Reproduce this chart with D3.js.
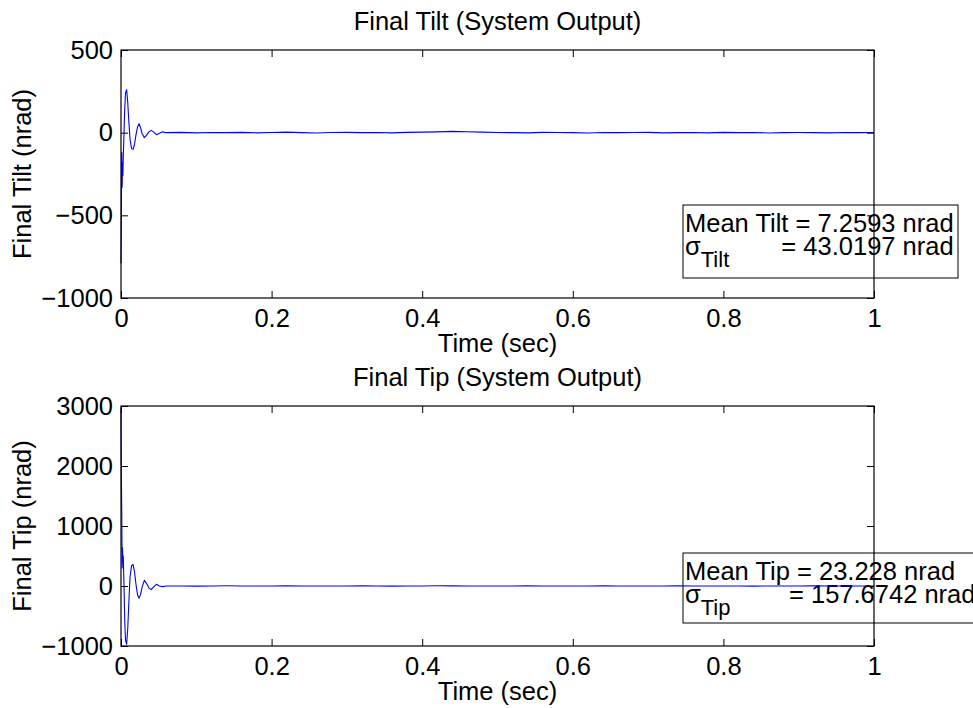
<!DOCTYPE html>
<html>
<head>
<meta charset="utf-8">
<script src="https://cdn.jsdelivr.net/npm/d3@7"></script>
<style>
  body { margin: 0; background: #fff; }
  svg { display: block; }
  text { font-family: Arial, "Liberation Sans", Helvetica, sans-serif; fill: #000; }
</style>
</head>
<body>
<svg id="chart" width="973" height="708"></svg>
<script>
// ---------------- DATA ----------------
const time = [
  0, 0.0005, 0.001, 0.0015, 0.002, 0.0025, 0.003, 0.004, 0.005, 0.006,
  0.0075, 0.009, 0.0105, 0.012, 0.014, 0.016, 0.018, 0.020, 0.022, 0.024,
  0.026, 0.028, 0.031, 0.034, 0.037, 0.040, 0.043, 0.047, 0.051, 0.055,
  0.06, 0.08, 0.10, 0.12, 0.14, 0.16, 0.18, 0.20, 0.22, 0.24,
  0.26, 0.28, 0.30, 0.32, 0.34, 0.36, 0.38, 0.40, 0.42, 0.44,
  0.46, 0.48, 0.50, 0.52, 0.54, 0.56, 0.58, 0.60, 0.62, 0.64,
  0.66, 0.68, 0.70, 0.72, 0.74, 0.76, 0.78, 0.80, 0.82, 0.84,
  0.86, 0.88, 0.90, 0.92, 0.94, 0.96, 0.98, 1.00
];
const tiltValues = [
  -790, -450, -120, -330, -180, -260, -150, 0, 150, 240,
  260, 180, 60, -40, -95, -101, -70, -10, 35, 54,
  30, -5, -30, -15, 5, 14, 5, -12, -3, 5,
  0, 2, -1, 1, 0, 2, -1, 1, 3, 0,
  -2, 1, 2, 0, 1, -1, 2, 3, 5, 8,
  6, 3, 1, 0, -1, 2, 1, 0, -2, 1,
  0, 1, 2, -1, 0, 1, -1, 2, 0, 1,
  -2, 0, 1, 0, -1, 1, 0, 1
];
const tipValues = [
  2970, 1800, 1220, 300, 640, 400, 500, 0, -600, -900,
  -972, -700, -250, 150, 340, 361, 230, 20, -150, -205,
  -140, -20, 94, 40, -30, -61, -20, 28, 0, -10,
  0, 1, -2, 0, 3, 1, 0, -1, 2, 0,
  1, -1, 0, 2, 1, -2, 0, 1, 3, 2,
  0, -1, 1, 0, 2, 1, -1, 0, 1, 2,
  0, -1, 1, 0, 2, -1, 0, 1, 0, -2,
  1, 0, 1, 2, 0, -1, 0, 1
];
const xTicks = [0, 0.2, 0.4, 0.6, 0.8, 1];
const xTickLabels = ["0", "0.2", "0.4", "0.6", "0.8", "1"];
const tiltTicks = [-1000, -500, 0, 500];
const tiltTickLabels = ["\u22121000", "\u2212500", "0", "500"];
const tipTicks = [-1000, 0, 1000, 2000, 3000];
const tipTickLabels = ["\u22121000", "0", "1000", "2000", "3000"];

const panels = [
  {
    title: "Final Tilt (System Output)", ylabel: "Final Tilt (nrad)",
    values: tiltValues, domain: [-1000, 500], ticks: tiltTicks, tickLabels: tiltTickLabels,
    top: 50, bottom: 298,
    meanText: "Mean Tilt = 7.2593 nrad", sub: "Tilt", sigmaText: "= 43.0197 nrad",
    box: {x: 683, y: 205, w: 275, h: 73}, sigmaX: null
  },
  {
    title: "Final Tip (System Output)", ylabel: "Final Tip (nrad)",
    values: tipValues, domain: [-1000, 3000], ticks: tipTicks, tickLabels: tipTickLabels,
    top: 406, bottom: 646,
    meanText: "Mean Tip = 23.228 nrad", sub: "Tip", sigmaText: "= 157.6742 nrad",
    box: {x: 683, y: 553, w: 300, h: 70}, sigmaX: 789
  }
];

// ---------------- DRAW ----------------
const svg = d3.select("#chart");
const left = 121, right = 874;
const FS = 25.5;
const FF = "Arial, 'Liberation Sans', sans-serif";

panels.forEach((p, idx) => {
  const x = d3.scaleLinear().domain([0, 1]).range([left, right]);
  const y = d3.scaleLinear().domain(p.domain).range([p.bottom, p.top]);
  const g = svg.append("g");

  // annotation box (under data)
  g.append("rect")
    .attr("x", p.box.x).attr("y", p.box.y)
    .attr("width", p.box.w).attr("height", p.box.h)
    .attr("fill", "#fff").attr("stroke", "#000").attr("stroke-width", 1);

  const tx = p.box.x + 2;
  const l1 = p.box.y + 27, l2 = p.box.y + 50;
  const t = g.append("text").attr("font-size", FS);
  const s1 = t.append("tspan").attr("x", tx).attr("y", l1).text(p.meanText);
  t.append("tspan").attr("x", tx).attr("y", l2).text("\u03c3");
  t.append("tspan").attr("dy", 12).attr("font-size", 22).text(p.sub);
  const s4 = t.append("tspan").attr("y", l2).text(p.sigmaText);
  if (p.sigmaX === null) {
    const end1 = tx + s1.node().getComputedTextLength();
    s4.attr("x", end1 - s4.node().getComputedTextLength());
  } else {
    s4.attr("x", p.sigmaX);
  }

  // data line
  const line = d3.line().x((d, i) => x(time[i])).y(d => y(d));
  g.append("path")
    .datum(p.values)
    .attr("d", line)
    .attr("fill", "none")
    .attr("stroke", "#0000ff")
    .attr("stroke-width", 1.1)
    .attr("stroke-linejoin", "round");

  // axes box
  g.append("rect")
    .attr("x", left).attr("y", p.top)
    .attr("width", right - left).attr("height", p.bottom - p.top)
    .attr("fill", "none").attr("stroke", "#000").attr("stroke-width", 1.2);

  // x axis
  const xAxis = d3.axisBottom(x).tickValues(xTicks)
    .tickFormat((d, i) => xTickLabels[i]).tickSizeInner(-7).tickSizeOuter(0).tickPadding(11);
  const xa = g.append("g").attr("transform", `translate(0,${p.bottom})`).call(xAxis);
  xa.select(".domain").remove();
  xa.selectAll("text").attr("font-size", FS).attr("font-family", FF).attr("fill", "#000");
  xa.selectAll("line").attr("stroke", "#000");
  const xAxisTop = d3.axisTop(x).tickValues(xTicks).tickFormat("").tickSizeInner(-7).tickSizeOuter(0);
  const xt = g.append("g").attr("transform", `translate(0,${p.top})`).call(xAxisTop);
  xt.select(".domain").remove();
  xt.selectAll("line").attr("stroke", "#000");

  // y axis
  const yAxis = d3.axisLeft(y).tickValues(p.ticks)
    .tickFormat((d, i) => p.tickLabels[i]).tickSizeInner(-7).tickSizeOuter(0).tickPadding(8);
  const ya = g.append("g").attr("transform", `translate(${left},0)`).call(yAxis);
  ya.select(".domain").remove();
  ya.selectAll("text").attr("font-size", FS).attr("font-family", FF).attr("fill", "#000");
  ya.selectAll("line").attr("stroke", "#000");
  const yAxisR = d3.axisRight(y).tickValues(p.ticks).tickFormat("").tickSizeInner(-7).tickSizeOuter(0);
  const yr = g.append("g").attr("transform", `translate(${right},0)`).call(yAxisR);
  yr.select(".domain").remove();
  yr.selectAll("line").attr("stroke", "#000");

  // title
  g.append("text").attr("x", (left + right) / 2).attr("y", p.top - 20)
    .attr("text-anchor", "middle").attr("font-size", FS).text(p.title);
  // x label
  g.append("text").attr("x", (left + right) / 2).attr("y", p.bottom + 54)
    .attr("text-anchor", "middle").attr("font-size", FS).text("Time (sec)");
  // y label
  g.append("text")
    .attr("transform", `translate(31,${(p.top + p.bottom) / 2}) rotate(-90)`)
    .attr("text-anchor", "middle").attr("font-size", FS).text(p.ylabel);
});
</script>
</body>
</html>
